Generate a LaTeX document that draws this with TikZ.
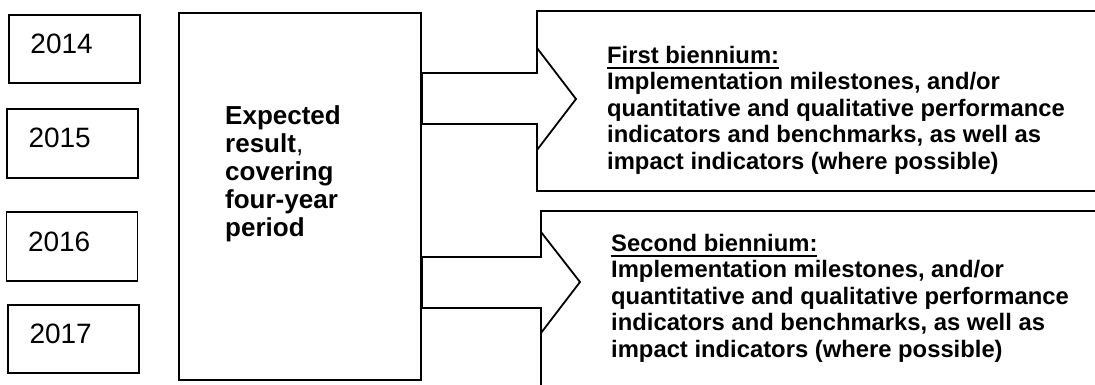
\documentclass[tikz,border=0pt]{standalone}
\usepackage{fontspec}
\setmainfont{Liberation Sans}
\newcommand\myul[1]{\setbox0\hbox{#1}\rlap{\rule[-6pt]{\wd0}{2pt}}\box0}
\tikzset{
  line/.style={draw=black, line width=1.8pt},
  yearbox/.style={line, fill=white, rectangle, minimum width=131pt, minimum height=68pt,
    text width=88pt, inner xsep=21.5pt, inner ysep=0pt, align=left,
    font=\fontsize{28}{30}\selectfont, text height=20pt, text depth=11pt},
  bigbox/.style={line, fill=white, rectangle, inner sep=0pt},
  blockarrow/.style={line, fill=white, line join=miter},
  maintext/.style={anchor=north west, inner sep=0pt, align=left,
    font=\fontsize{26}{28}\selectfont\bfseries},
  bientext/.style={anchor=north west, inner sep=0pt, align=left,
    font=\fontsize{23.8}{26.5}\selectfont\bfseries},
}
\begin{document}
\begin{tikzpicture}[x=1pt,y=-1pt]
\useasboundingbox (0,0) rectangle (1095,385);
% year boxes
\node[yearbox, minimum width=131pt, minimum height=68pt] (y14) at (74.5,49) {2014};
\node[yearbox, minimum width=131pt, minimum height=69pt] (y15) at (72.5,143.5) {2015};
\node[yearbox, minimum width=130pt, minimum height=69pt] (y16) at (72,246.5) {2016};
\node[yearbox, minimum width=131pt, minimum height=68pt] (y17) at (73.5,339) {2017};
% main box
\node[bigbox, minimum width=242pt, minimum height=367pt] (main) at (300,196.5) {};
\node[maintext] (mt) at (225,105) {Expected\\result{\mdseries,}\\covering\\four-year\\period};
% biennium boxes
\node[bigbox, minimum width=573pt, minimum height=180pt] (b1) at (823.5,101) {};
\node[bigbox, minimum width=569pt, minimum height=189pt] (b2) at (825.5,305.5) {};
% arrows
\coordinate (a1t) at (537,73);
\coordinate (a1b) at (537,124);
\coordinate (a1u) at (537,48);
\coordinate (a1d) at (537,150);
\coordinate (a1p) at (576,99);
\coordinate (a2t) at (541,257);
\coordinate (a2b) at (541,308);
\coordinate (a2u) at (541,232);
\coordinate (a2d) at (541,333);
\coordinate (a2p) at (580,282);
\draw[blockarrow] (main.east |- a1t) -- (a1t) -- (a1u) -- (a1p) -- (a1d) -- (a1b) -- (main.east |- a1b) -- cycle;
\draw[blockarrow] (main.east |- a2t) -- (a2t) -- (a2u) -- (a2p) -- (a2d) -- (a2b) -- (main.east |- a2b) -- cycle;
% texts
\node[bientext] (t1) at (607,46) {\myul{First biennium:}\\Implementation milestones, and/or\\quantitative and qualitative performance\\indicators and benchmarks, as well as\\impact indicators (where possible)};
\node[bientext] (t2) at (611,234) {\myul{Second biennium:}\\Implementation milestones, and/or\\quantitative and qualitative performance\\indicators and benchmarks, as well as\\impact indicators (where possible)};
\end{tikzpicture}
\end{document}
